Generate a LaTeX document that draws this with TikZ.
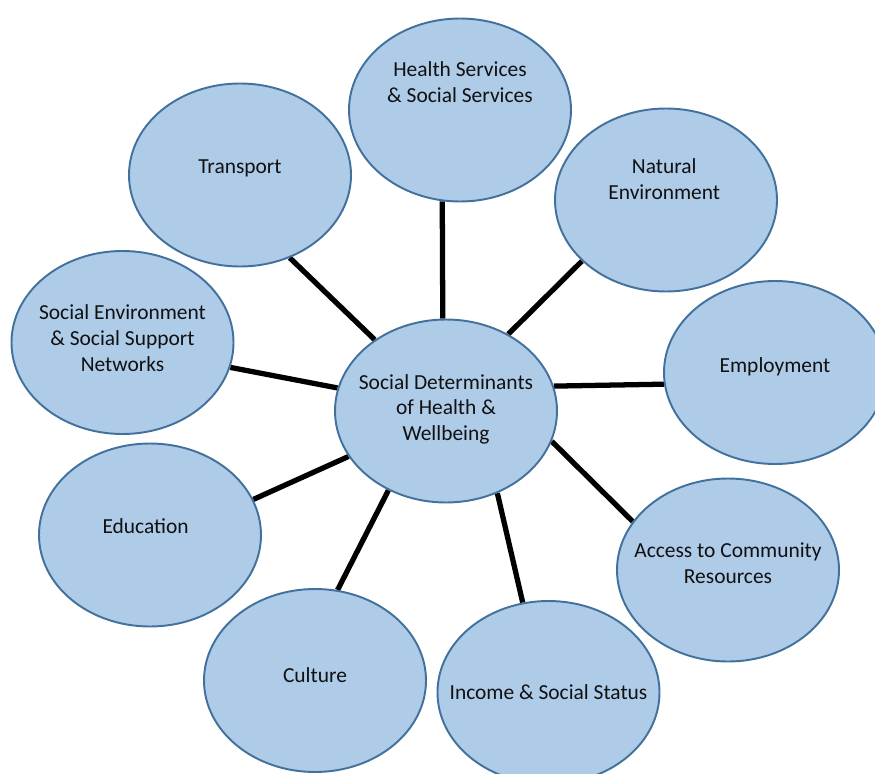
\documentclass[tikz,border=0pt]{standalone}
\usepackage{fontspec}
\setmainfont{Carlito}
\usepackage{xcolor}
\usepackage{tikz}
\usetikzlibrary{shapes.geometric, backgrounds}
\definecolor{bubblefill}{HTML}{AECBE8}
\definecolor{bubbleedge}{HTML}{41719C}
\definecolor{inktext}{HTML}{111111}
\tikzstyle{bubble} = [ellipse, minimum width=4.44cm, minimum height=3.66cm, draw=bubbleedge, fill=bubblefill, line width=1.1pt]
\tikzstyle{bubbletext} = [align=center, text=inktext, font=\fontsize{12.2}{14.6}\selectfont]
\tikzstyle{spoke} = [line width=3pt, color=black]

\begin{document}
\begin{tikzpicture}
    \useasboundingbox (0,0) rectangle (17.5,15.46);
    \clip (0,0) rectangle (17.5,15.46);

    % Hub
    \node[bubble] (sdh) at (8.92,7.24) {};
    \node[bubbletext, yshift=1pt] (sdh-text) at (sdh) {Social Determinants\\of Health \&\\Wellbeing};

    % Outer ring, clockwise from the top
    \node[bubble] (health) at (9.20,13.26) {};
    \node[bubbletext, yshift=16pt] (health-text) at (health) {Health Services\\\& Social Services};

    \node[bubble] (natural) at (13.32,11.46) {};
    \node[bubbletext, yshift=12pt, xshift=-1pt] (natural-text) at (natural) {Natural\\Environment};

    \node[bubble] (employment) at (15.50,8.01) {};
    \node[bubbletext, yshift=3pt] (employment-text) at (employment) {Employment};

    \node[bubble] (access) at (14.56,4.06) {};
    \node[bubbletext, yshift=4pt] (access-text) at (access) {Access to Community\\Resources};

    \node[bubble] (income) at (10.97,1.61) {};
    \node[bubbletext] (income-text) at (income) {Income \& Social Status};

    \node[bubble] (culture) at (6.30,1.85) {};
    \node[bubbletext, yshift=3pt] (culture-text) at (culture) {Culture};

    \node[bubble] (education) at (3.00,4.76) {};
    \node[bubbletext, yshift=5pt, xshift=-2.5pt] (education-text) at (education) {Education};

    \node[bubble] (socenv) at (2.45,8.61) {};
    \node[bubbletext, yshift=2.5pt] (socenv-text) at (socenv) {Social Environment\\\& Social Support\\Networks};

    \node[bubble] (transport) at (4.80,11.96) {};
    \node[bubbletext, yshift=4pt] (transport-text) at (transport) {Transport};

    % Spokes
    \begin{scope}[on background layer]
        \draw[spoke] (sdh.92) -- (health.259);
        \draw[spoke] (sdh.51) -- (natural.216);
        \draw[spoke] (sdh.13) -- (employment.186);
        \draw[spoke] (sdh.344) -- (access.153);
        \draw[spoke] (sdh.302) -- (income.106);
        \draw[spoke] (sdh.234) -- (culture.76);
        \draw[spoke] (sdh.205) -- (education.19);
        \draw[spoke] (sdh.168) -- (socenv.347);
        \draw[spoke] (sdh.135) -- (transport.301);
    \end{scope}
\end{tikzpicture}
\end{document}
